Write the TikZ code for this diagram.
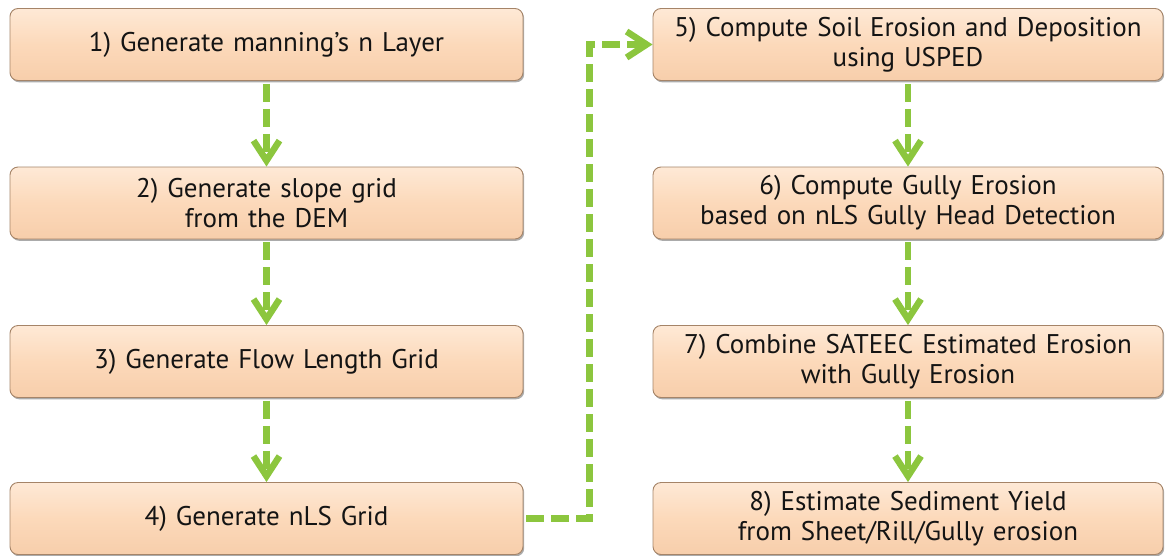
\documentclass[tikz,border=0pt]{standalone}
\usepackage{fontspec}
\setmainfont[WordSpace=1.25]{PT Sans}
\usetikzlibrary{arrows.meta,shadows}
\definecolor{boxfill}{HTML}{FCD9BA}
\definecolor{boxtop}{HTML}{FEE9D6}
\definecolor{boxbot}{HTML}{F7CEAB}
\definecolor{boxedge}{HTML}{A58468}
\definecolor{arrowgreen}{HTML}{8CC63E}
\tikzset{
  stepbox/.style={rectangle, rounded corners=8pt, minimum width=#1, minimum height=72pt,
    top color=boxtop, bottom color=boxbot, middle color=boxfill,
    draw=boxedge, line width=0.9pt, align=center, text=black!92,
    font=\fontsize{27}{30}\selectfont, inner sep=0pt,
    drop shadow={shadow xshift=1.2pt, shadow yshift=-1.8pt, fill=black!55, opacity=0.6}},
  stepbox/.default=513pt,
  flow/.style={draw=arrowgreen, line width=6.5pt, dash pattern=on 18pt off 7pt,
    shorten <=3pt,
    -{Straight Barb[length=20pt,width=26pt,line width=6.5pt]}},
}
\begin{document}
\begin{tikzpicture}[x=1pt,y=-1pt]
\useasboundingbox (0,0) rectangle (1165,555);
\node[stepbox] (b1) at (266.5,44.5) {1) Generate manning’s n Layer};
\node[stepbox] (b2) at (266.5,203) {2) Generate slope grid\\from the DEM};
\node[stepbox] (b3) at (266.5,361.5) {3) Generate Flow Length Grid};
\node[stepbox] (b4) at (266.5,518.5) {4) Generate nLS Grid};
\node[stepbox=510pt] (b5) at (908,44.5) {5) Compute Soil Erosion and Deposition\\using USPED};
\node[stepbox=510pt] (b6) at (908,203) {6) Compute Gully Erosion\\based on nLS Gully Head Detection};
\node[stepbox=510pt] (b7) at (908,361.5) {7) Combine SATEEC Estimated Erosion\\with Gully Erosion};
\node[stepbox=510pt] (b8) at (908,518.5) {8) Estimate Sediment Yield\\from Sheet/Rill/Gully erosion};
\draw[flow] (b1) -- (b2);
\draw[flow] (b2) -- (b3);
\draw[flow] (b3) -- (b4);
\draw[flow] (b5) -- (b6);
\draw[flow] (b6) -- (b7);
\draw[flow] (b7) -- (b8);
\draw[flow] (b4.east) -- ++(66,0) |- (b5.west);
\end{tikzpicture}
\end{document}
